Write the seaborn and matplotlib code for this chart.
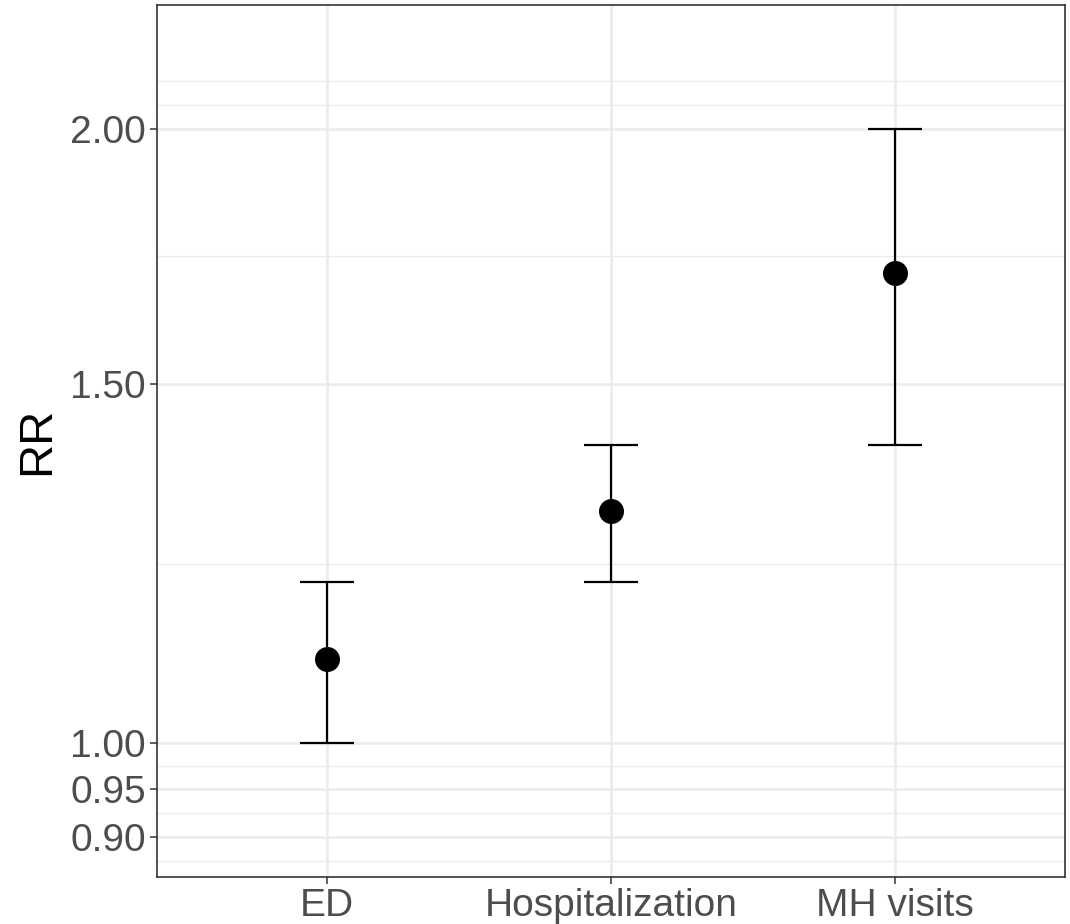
import numpy as np
import pandas as pd
import matplotlib
matplotlib.use("Agg")
import matplotlib.pyplot as plt
import seaborn as sns

categories = ["ED", "Hospitalization", "MH visits"]
rr = [1.10, 1.30, 1.70]
lower = [1.00, 1.20, 1.40]
upper = [1.20, 1.40, 2.00]
y_ticks = [0.90, 0.95, 1.00, 1.50, 2.00]
y_tick_labels = ["0.90", "0.95", "1.00", "1.50", "2.00"]

df = pd.DataFrame({"outcome": categories, "RR": rr, "lo": lower, "hi": upper})

sns.set_theme(style="white")
plt.rcParams["font.family"] = ["Liberation Sans", "DejaVu Sans"]

fig = plt.figure(figsize=(10.70, 9.24), dpi=100)
ax = fig.add_axes([157/1070, 1 - 877/924, (1065-157)/1070, (877-5)/924])

ax.set_yscale("log")
ax.set_ylim(0.86, 2.30)

# grid (ggplot-style minor breaks midway in log space)
lt = np.log(y_ticks)
half = (lt[1] - lt[0]) / 2
minor = list((lt[:-1] + lt[1:]) / 2) + [lt[0] - half, lt[-1] + half, lt[-1] + 2 * half]
for m in np.exp(minor):
    ax.axhline(m, color="#EBEBEB", lw=1.0, zorder=0)
for t in y_ticks:
    ax.axhline(t, color="#EBEBEB", lw=1.8, zorder=0)
for i in range(len(categories)):
    ax.axvline(i, color="#EBEBEB", lw=1.8, zorder=0)

ax.errorbar(df["outcome"], df["RR"],
            yerr=[df["RR"] - df["lo"], df["hi"] - df["RR"]],
            fmt="none", ecolor="black", elinewidth=1.6, capsize=19.5,
            capthick=1.6, zorder=2)
sns.scatterplot(data=df, x="outcome", y="RR", ax=ax, color="black",
                s=324, edgecolor="black", linewidth=0, zorder=3, legend=False)

ax.set_xlim(-0.6, 2.6)
ax.set_yticks(y_ticks)
ax.set_yticklabels(y_tick_labels)
ax.yaxis.set_minor_locator(matplotlib.ticker.NullLocator())
ax.tick_params(axis="both", which="major", length=5, width=1.1, color="#333333",
               labelsize=28, labelcolor="#4D4D4D", pad=3, left=True, bottom=True)
ax.set_xlabel("")
ax.set_ylabel("RR", fontsize=34, color="black", labelpad=8)

for sp in ax.spines.values():
    sp.set_color("#333333")
    sp.set_linewidth(1.2)

fig.savefig("out.png", dpi=100)
